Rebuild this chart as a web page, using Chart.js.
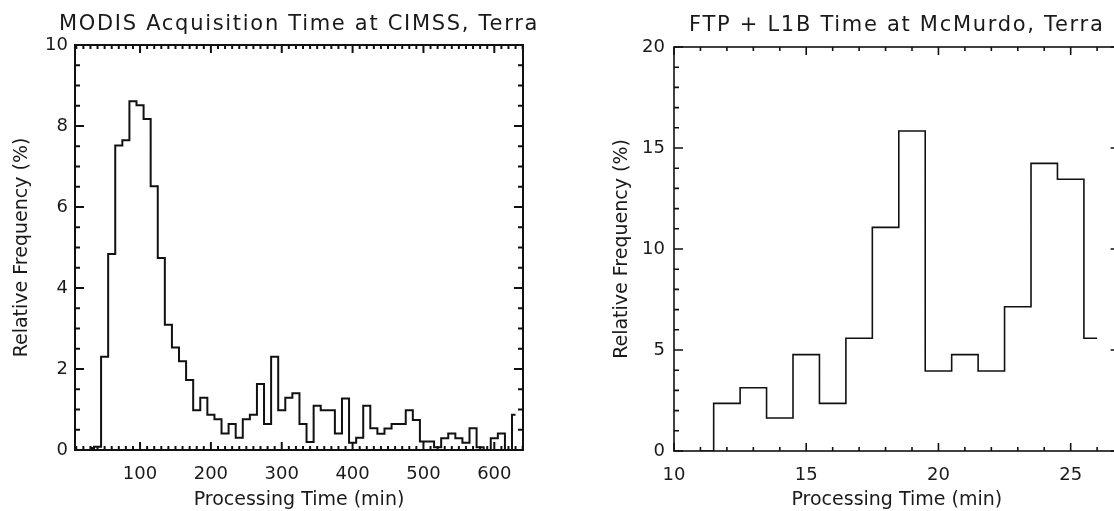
<!DOCTYPE html>
<html><head><meta charset="utf-8">
<script src="https://cdn.jsdelivr.net/npm/chart.js@4.4.1/dist/chart.umd.min.js"></script>
<style>
html,body{margin:0;padding:0;background:#fff;overflow:hidden;width:1114px;height:511px;}
#c1{position:absolute;left:0;top:0;}
#c2{position:absolute;left:598px;top:0;}
</style></head><body>
<canvas id="c1" width="598" height="511"></canvas>
<canvas id="c2" width="602" height="511"></canvas>
<script>
// ---- data: left panel (CIMSS) ----
const cimssTitle = 'MODIS Acquisition Time at CIMSS, Terra';
const cimssBinCenters = [30,40,50,60,70,80,90,100,110,120,130,140,150,160,170,180,190,200,210,220,230,240,250,260,270,280,290,300,310,320,330,340,350,360,370,380,390,400,410,420,430,440,450,460,470,480,490,500,510,520,530,540,550,560,570,580,590,600,610,620,630];
const cimssFreq = [0.05,0.08,2.30,4.84,7.52,7.65,8.61,8.51,8.17,6.51,4.74,3.09,2.53,2.19,1.73,0.98,1.29,0.87,0.76,0.41,0.64,0.30,0.76,0.87,1.63,0.64,2.30,0.98,1.29,1.40,0.64,0.20,1.09,0.98,0.98,0.41,1.27,0.18,0.30,1.09,0.54,0.40,0.53,0.64,0.64,0.98,0.74,0.21,0.21,0.07,0.29,0.41,0.29,0.18,0.54,0.07,0,0.29,0.41,0,0.87];
const cimssXTicks = [100,200,300,400,500,600];
const cimssYTicks = [0,2,4,6,8,10];

// ---- data: right panel (McMurdo) ----
const mcmTitle = 'FTP + L1B Time at McMurdo, Terra';
const mcmBinCenters = [11,12,13,14,15,16,17,18,19,20,21,22,23,24,25,26];
const mcmFreq = [0,2.36,3.13,1.63,4.77,2.36,5.58,11.07,15.84,3.96,4.77,3.96,7.14,14.24,13.45,5.58];
const mcmXTicks = [10,15,20,25];
const mcmYTicks = [0,5,10,15,20];

const xAxisTitle = 'Processing Time (min)';
const yAxisTitle = 'Relative Frequency (%)';

const INK = '#111';
const TXT = '#1a1a1a';
const FAMILY = "'DejaVu Sans', 'Liberation Sans', sans-serif";

// IDL-style frame with inward major/minor ticks on all four sides
const idlAxesPlugin = {
  id: 'idlAxes',
  beforeDraw(chart) {
    const tb = chart.titleBlock;
    if (tb && !tb._spaced) {
      const orig = tb.draw.bind(tb);
      tb.draw = function(area) {
        const c = chart.ctx;
        const ca = chart.chartArea;
        const dx = (ca.left + ca.right) / 2 - (tb.left + tb.right) / 2;
        c.save();
        try { c.letterSpacing = '1.7px'; } catch (e) {}
        c.translate(dx, 0);
        orig(area);
        c.restore();
      };
      tb._spaced = true;
    }
  },
  afterDatasetsDraw(chart, args, o) {
    const {ctx, chartArea: a, scales: {x, y}} = chart;
    ctx.save();
    ctx.strokeStyle = INK;
    ctx.lineWidth = o.lineWidth;
    ctx.strokeRect(a.left, a.top, a.right - a.left, a.bottom - a.top);
    ctx.beginPath();
    const isMajor = (v, step) => Math.abs(v / step - Math.round(v / step)) < 1e-6;
    for (let k = Math.ceil(x.min / o.xMinor - 1e-9); k * o.xMinor <= x.max + 1e-9; k++) {
      const v = k * o.xMinor;
      const px = x.getPixelForValue(v);
      const len = isMajor(v, o.xMajor) ? o.xMajorLen : o.xMinorLen;
      ctx.moveTo(px, a.bottom); ctx.lineTo(px, a.bottom - len);
      ctx.moveTo(px, a.top); ctx.lineTo(px, a.top + len);
    }
    for (let k = Math.ceil(y.min / o.yMinor - 1e-9); k * o.yMinor <= y.max + 1e-9; k++) {
      const v = k * o.yMinor;
      const py = y.getPixelForValue(v);
      const len = isMajor(v, o.yMajor) ? o.yMajorLen : o.yMinorLen;
      ctx.moveTo(a.left, py); ctx.lineTo(a.left + len, py);
      ctx.moveTo(a.right, py); ctx.lineTo(a.right - len, py);
    }
    ctx.stroke();
    ctx.restore();
  }
};

function makeChart(id, cfg) {
  return new Chart(document.getElementById(id), {
    type: 'line',
    data: {
      datasets: [{
        data: cfg.centers.map((c, i) => ({x: c, y: cfg.freq[i]})),
        stepped: 'middle',
        borderColor: INK,
        borderWidth: cfg.lineWidth,
        pointRadius: 0,
        fill: false
      }]
    },
    options: {
      responsive: false,
      animation: false,
      devicePixelRatio: 1,
      layout: {padding: {left: 0, right: cfg.padRight, top: 0, bottom: 0}},
      plugins: {
        legend: {display: false},
        tooltip: {enabled: false},
        title: {
          display: true, text: cfg.title, color: TXT,
          font: {family: FAMILY, size: 21, weight: 'normal', lineHeight: 1.2},
          padding: {top: cfg.titleTop, bottom: cfg.titleBottom}
        },
        idlAxes: cfg.axes
      },
      scales: {
        x: {
          type: 'linear', min: cfg.xMin, max: cfg.xMax,
          afterBuildTicks: s => { s.ticks = cfg.xTicks.map(v => ({value: v})); },
          afterFit: s => { s.height = cfg.xHeight; },
          grid: {display: false, drawTicks: false},
          border: {display: false},
          ticks: {color: TXT, font: {family: FAMILY, size: 18}, padding: cfg.xTickPad, maxRotation: 0, autoSkip: false},
          title: {display: true, text: xAxisTitle, color: TXT, font: {family: FAMILY, size: 19, lineHeight: 1.2}, padding: {top: 0, bottom: 0}}
        },
        y: {
          type: 'linear', min: 0, max: cfg.yMax,
          afterBuildTicks: s => { s.ticks = cfg.yTicks.map(v => ({value: v})); },
          afterFit: s => { s.width = cfg.yWidth; },
          grid: {display: false, drawTicks: false},
          border: {display: false},
          ticks: {color: TXT, font: {family: FAMILY, size: 18}, padding: cfg.yTickPad, autoSkip: false},
          title: {display: true, text: yAxisTitle, color: TXT, font: {family: FAMILY, size: 19, lineHeight: 1.2}, padding: {top: cfg.yTitlePad, bottom: 0}}
        }
      }
    },
    plugins: [idlAxesPlugin]
  });
}

makeChart('c1', {
  title: cimssTitle, centers: cimssBinCenters, freq: cimssFreq,
  xTicks: cimssXTicks, yTicks: cimssYTicks,
  xMin: 8.2, xMax: 640.5, yMax: 10,
  lineWidth: 2, padRight: 75, titleTop: 12.4, titleBottom: 7.4,
  xHeight: 61, yWidth: 75, xTickPad: 13.2, yTickPad: 7, yTitlePad: 10.6,
  axes: {lineWidth: 2, xMinor: 10, xMajor: 100, xMajorLen: 8, xMinorLen: 4, yMinor: 0.5, yMajor: 2, yMajorLen: 9, yMinorLen: 5}
});

makeChart('c2', {
  title: mcmTitle, centers: mcmBinCenters, freq: mcmFreq,
  xTicks: mcmXTicks, yTicks: mcmYTicks,
  xMin: 10, xMax: 26.85, yMax: 20,
  lineWidth: 1.6, padRight: 80.4, titleTop: 13, titleBottom: 8.8,
  xHeight: 60, yWidth: 76, xTickPad: 13.2, yTickPad: 9, yTitlePad: 12.6,
  axes: {lineWidth: 1.6, xMinor: 1, xMajor: 5, xMajorLen: 8, xMinorLen: 4, yMinor: 1, yMajor: 5, yMajorLen: 9, yMinorLen: 5}
});
</script>
</body></html>
